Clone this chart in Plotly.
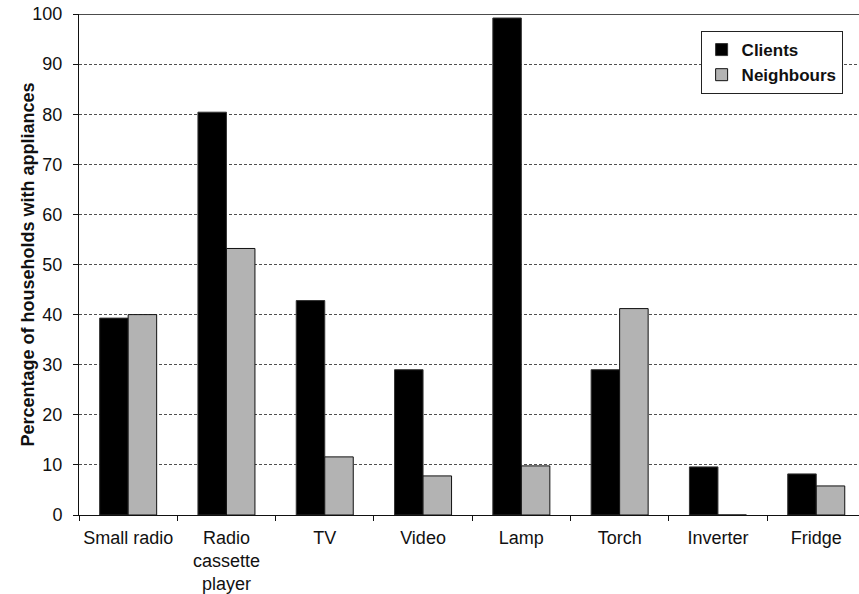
import plotly.graph_objects as go

categories = ["Small radio", "Radio<br>cassette<br>player", "TV", "Video", "Lamp", "Torch", "Inverter", "Fridge"]
clients = [39.3, 80.4, 42.8, 29.0, 99.2, 29.0, 9.6, 8.2]
neighbours = [40.0, 53.2, 11.6, 7.8, 9.8, 41.2, 0.0, 5.8]
y_ticks = list(range(0, 101, 10))
y_title = "Percentage of households with appliances"

FONT = "Liberation Sans, Arial, Helvetica, sans-serif"

fig = go.Figure()
fig.add_trace(go.Bar(x=categories, y=clients, name="Clients",
                     marker=dict(color="#000000", line=dict(color="#333333", width=1))))
fig.add_trace(go.Bar(x=categories, y=neighbours, name="Neighbours",
                     marker=dict(color="#b3b3b3", line=dict(color="#111111", width=1))))

fig.update_layout(
    width=859, height=594,
    margin=dict(l=79, r=0, t=14, b=79),
    paper_bgcolor="white", plot_bgcolor="white",
    barmode="group", bargap=0.42, bargroupgap=0,
    font=dict(family=FONT, size=18, color="#111111"),
    showlegend=True,
    legend=dict(x=0.979, y=0.966, xanchor="right", yanchor="top",
                bgcolor="white", bordercolor="#222222", borderwidth=1,
                font=dict(family=FONT, size=17, color="#111111", weight="bold"),
                itemwidth=30, tracegroupgap=0),
    xaxis=dict(type="category", range=[-0.5, 7.435], tickson="boundaries",
               ticks="outside", ticklen=5, tickcolor="#111111", tickangle=0,
               showline=True, linecolor="#111111", linewidth=1,
               showgrid=False, ticklabelstandoff=6, automargin=False,
               tickfont=dict(size=18, family=FONT, color="#111111")),
    yaxis=dict(range=[0, 100], tickvals=y_ticks, ticks="outside", ticklen=5,
               tickcolor="#111111", showline=True, linecolor="#111111", linewidth=1,
               showgrid=True, gridcolor="#505050", gridwidth=1.3, griddash="3px,2px",
               zeroline=False, ticklabelstandoff=7, automargin=False,
               tickfont=dict(size=18, family=FONT, color="#111111")),
)
fig.add_annotation(text=y_title, textangle=-90, xref="paper", yref="paper",
                   x=-52 / 780, y=0.5, xanchor="center", yanchor="middle",
                   showarrow=False,
                   font=dict(size=18, family=FONT, color="#111111", weight="bold"))
fig.add_shape(type="line", xref="paper", yref="y", x0=0, x1=1, y0=100, y1=100,
              line=dict(color="#111111", width=1.3))

fig.write_html("out.html")
